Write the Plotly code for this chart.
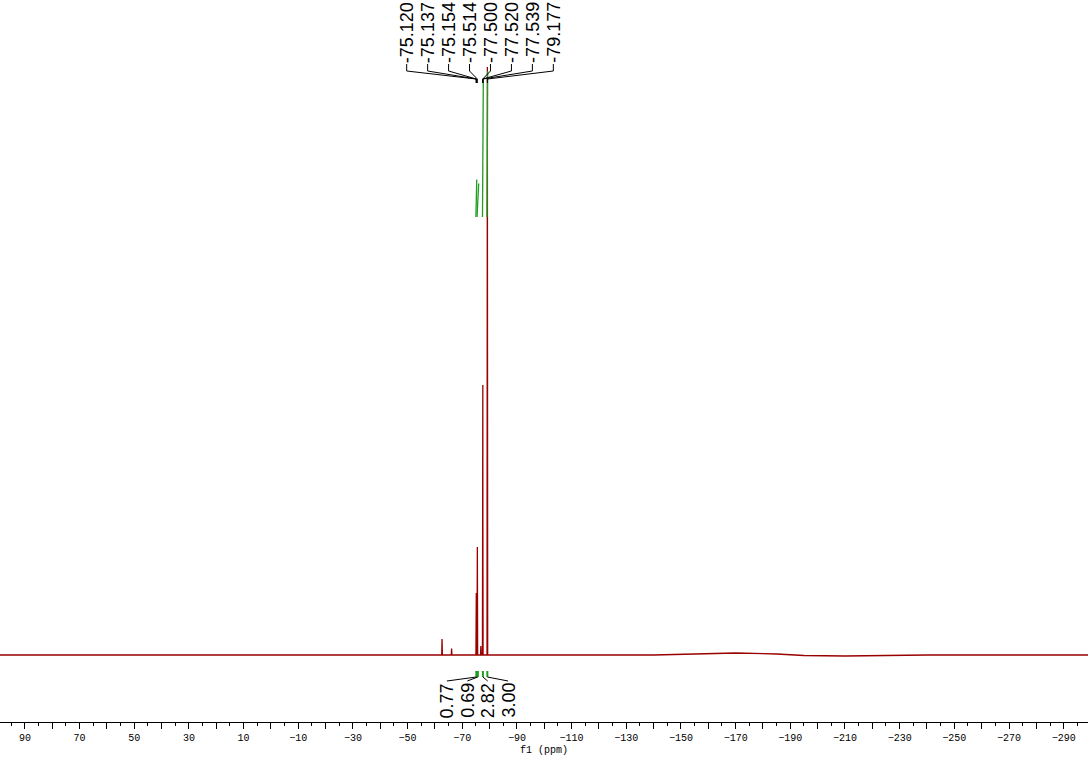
import plotly.graph_objects as go

# 19F NMR spectrum, f1 in ppm (heights in screen-like units above baseline)
peak_shifts = [-62.6, -66.1, -75.120, -75.137, -75.154, -75.514, -76.8,
               -77.500, -77.520, -77.539, -79.177]
peak_heights = [16, 6.5, 40, 62, 40, 108, 9, 140, 270, 140, 588]

# slow baseline roll on the high-field side
baseline_ppm = [99.1, -140, -155, -170, -185, -195, -210, -225, -240, -298.9]
baseline_val = [0, 0, 1.2, 2.0, 1.0, -0.5, -1.0, -0.6, 0, 0]

# labelled peaks (top)
label_shifts = [-75.120, -75.137, -75.154, -75.514, -77.500, -77.520, -77.539, -79.177]

# integrals (bottom)
integral_values = [0.77, 0.69, 2.82, 3.00]
integral_from = [-75.00, -75.40, -77.40, -79.05]
integral_to = [-75.30, -76.00, -77.70, -79.30]

tick_vals = list(range(90, -291, -10))
minor_vals = list(range(95, -296, -10))

# ---- layout helpers (page pixels) ----
W, H = 1088, 759
X_LEFT, X_RIGHT = 99.1, -298.9
PX_PER_PPM = W / (X_LEFT - X_RIGHT)
BASE_PX = 655          # baseline row
AXIS_PX = 722          # x-axis line row


def px_to_ppm(px):
    return X_LEFT - px / PX_PER_PPM


def py(row):
    return BASE_PX - row


RED = "#990000"
GREEN = "#1e9e1e"
HALF_W = 0.12

# build the spectrum line
pts = list(zip(baseline_ppm, baseline_val))
for s, h in zip(peak_shifts, peak_heights):
    pts += [(s + HALF_W, 0), (s, h), (s - HALF_W, 0)]
pts.sort(key=lambda p: -p[0])

fig = go.Figure()
fig.add_trace(go.Scatter(
    x=[p[0] for p in pts], y=[p[1] for p in pts],
    mode="lines", line=dict(color=RED, width=1.3),
    hoverinfo="skip", showlegend=False
))

# integral curves
INT_SCALE = 48.6
INT_BASE = py(217)
for v, a, b in zip(integral_values, integral_from, integral_to):
    fig.add_trace(go.Scatter(
        x=[a, b], y=[INT_BASE, INT_BASE + v * INT_SCALE],
        mode="lines", line=dict(color=GREEN, width=1.3),
        hoverinfo="skip", showlegend=False
    ))

shapes = []
annotations = []

# top peak labels with brackets
n = len(label_shifts)
for i, s in enumerate(label_shifts):
    lx = px_to_ppm(480 + (i - (n - 1) / 2) * 20.95)
    seg = [(lx, py(64)), (lx, py(71)), (s, py(79)), (s, py(83))]
    for (x0, y0), (x1, y1) in zip(seg[:-1], seg[1:]):
        shapes.append(dict(type="line", xref="x", yref="y", x0=x0, y0=y0, x1=x1, y1=y1,
                           line=dict(color="black", width=1)))
    annotations.append(dict(
        x=lx, y=py(64), xref="x", yref="y", text=f"{s:.3f}", textangle=-90,
        showarrow=False, xanchor="center", yanchor="bottom", borderpad=0,
        font=dict(family="Liberation Sans, Arial", size=18, color="black")
    ))

# integral labels under the baseline
m = len(integral_values)
for i, (v, a, b) in enumerate(zip(integral_values, integral_from, integral_to)):
    c = (a + b) / 2
    lx = px_to_ppm(477.5 + (i - (m - 1) / 2) * 20.4)
    shapes.append(dict(type="line", xref="x", yref="y", x0=c, y0=py(671), x1=c, y1=py(677),
                       line=dict(color=GREEN, width=2)))
    shapes.append(dict(type="line", xref="x", yref="y", x0=c, y0=py(677), x1=lx, y1=py(681),
                       line=dict(color="black", width=1)))
    annotations.append(dict(
        x=lx, y=py(682), xref="x", yref="y", text=f"{v:.2f}", textangle=-90,
        showarrow=False, xanchor="center", yanchor="top", borderpad=0,
        font=dict(family="Liberation Sans, Arial", size=18, color="black")
    ))

tick_text = [
    (str(v) if v >= 0 else "\u2212" + str(-v)) if (v - 10) % 20 == 0 else ""
    for v in tick_vals
]

fig.update_layout(
    width=W, height=H,
    margin=dict(l=0, r=0, t=0, b=H - AXIS_PX),
    paper_bgcolor="white", plot_bgcolor="white",
    shapes=shapes, annotations=annotations,
    showlegend=False,
    xaxis=dict(
        range=[X_LEFT, X_RIGHT], showgrid=False, zeroline=False,
        showline=True, linecolor="black", linewidth=1,
        tickmode="array", tickvals=tick_vals, ticktext=tick_text,
        ticks="outside", ticklen=6, tickwidth=1, tickcolor="black",
        minor=dict(tickmode="array", tickvals=minor_vals, ticks="outside",
                   ticklen=3, tickwidth=1, tickcolor="black", showgrid=False),
        tickfont=dict(family="Liberation Mono, Courier New", size=10, color="black"),
        title=dict(text="f1 (ppm)", standoff=2,
                   font=dict(family="Liberation Mono, Courier New", size=10, color="black")),
    ),
    yaxis=dict(range=[py(AXIS_PX), py(0)], visible=False, fixedrange=True),
)

# drop the default 8px body margin so the figure sits at the page corner
fig.write_html("out.html", config={"displayModeBar": False},
               post_script="document.body.style.margin='0';")
